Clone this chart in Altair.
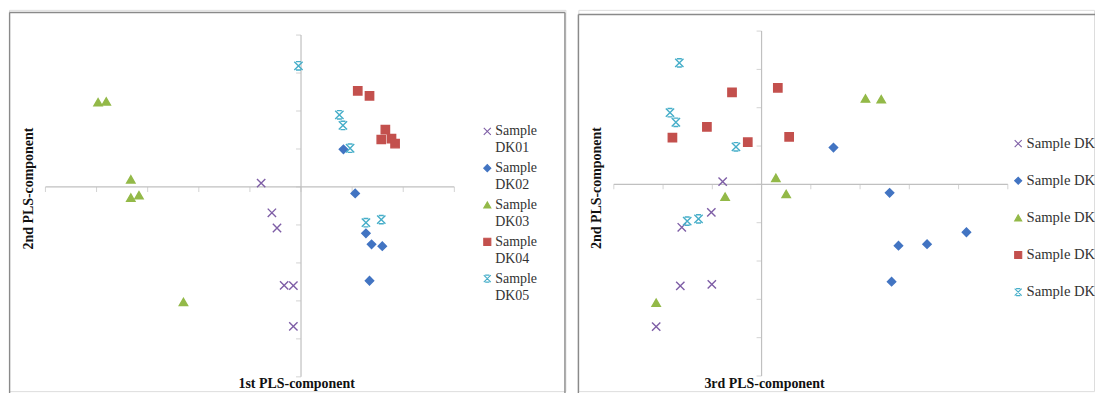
import altair as alt
import pandas as pd

samples = ["Sample DK01", "Sample DK02", "Sample DK03", "Sample DK04", "Sample DK05"]
colors = ["#7E5EA6", "#4274C2", "#93B948", "#C3504D", "#46AEC9"]
fills = ["transparent", "#4274C2", "#93B948", "#C3504D", "transparent"]
X_PATH = "M-1,-1L1,1M-1,1L1,-1"
STAR_PATH = "M-1,-1L1,1M-1,1L1,-1M-0.6,-1L0.6,-1M-0.6,1L0.6,1"
shapes = [X_PATH, "diamond", "triangle-up", "square", STAR_PATH]

# Left panel: 1st vs 2nd PLS component
pc1_dk01 = [-0.78, -0.57, -0.47, -0.33, -0.15, -0.15]
pc2a_dk01 = [0.10, -0.68, -1.08, -2.59, -2.60, -3.67]
pc1_dk02 = [0.83, 1.06, 1.27, 1.38, 1.59, 1.34]
pc2a_dk02 = [0.99, -0.17, -1.22, -1.51, -1.56, -2.47]
pc1_dk03 = [-3.97, -3.81, -3.33, -3.33, -3.17, -2.30]
pc2a_dk03 = [2.23, 2.25, 0.20, -0.28, -0.22, -3.03]
pc1_dk04 = [1.11, 1.34, 1.65, 1.57, 1.77, 1.84]
pc2a_dk04 = [2.53, 2.40, 1.51, 1.25, 1.27, 1.14]
pc1_dk05 = [-0.05, 0.75, 0.82, 0.96, 1.27, 1.57]
pc2a_dk05 = [3.19, 1.90, 1.62, 1.02, -0.94, -0.86]

# Right panel: 3rd vs 2nd PLS component
pc3_dk01 = [-0.79, -1.02, -1.62, -1.65, -1.01, -2.14]
pc2b_dk01 = [0.07, -0.73, -1.12, -2.65, -2.61, -3.71]
pc3_dk02 = [1.46, 2.60, 2.78, 3.36, 4.16, 2.64]
pc2b_dk02 = [0.96, -0.22, -1.60, -1.56, -1.25, -2.54]
pc3_dk03 = [2.11, 2.43, 0.29, 0.50, -0.74, -2.14]
pc2b_dk03 = [2.24, 2.22, 0.17, -0.25, -0.32, -3.09]
pc3_dk04 = [-0.60, 0.33, -1.11, -1.81, -0.28, 0.56]
pc2b_dk04 = [2.40, 2.52, 1.50, 1.22, 1.10, 1.24]
pc3_dk05 = [-1.67, -1.86, -1.74, -0.52, -1.51, -1.28]
pc2b_dk05 = [3.17, 1.87, 1.62, 0.98, -0.96, -0.90]

left_x_ticks = [-5, -4, -3, -2, -1, 0, 1, 2, 3]
right_x_ticks = [-3, -2, -1, 0, 1, 2, 3, 4, 5]
y_ticks = [-5, -4, -3, -2, -1, 0, 1, 2, 3, 4]

FONT = "Liberation Serif"
FRAME = "#8a8a8a"
AXIS = "#c0c0c0"
H = 383
EXT = 30


def make_df(xs, ys):
    rows = []
    for s, xv, yv in zip(samples, xs, ys):
        for a, b in zip(xv, yv):
            rows.append({"sample": s, "x": a, "y": b})
    return pd.DataFrame(rows)


def panel(df, W, xdom, ydom, xticks, ytitle_pos, xtitle, xtitle_pos,
          frame_left, frame_top, frame_right, legend):
    one = pd.DataFrame({"k": [0]})
    xs = alt.Scale(domain=xdom, nice=False, zero=False)
    ys = alt.Scale(domain=ydom, nice=False, zero=False)
    layers = []
    # frame
    layers.append(alt.Chart(one).mark_rule(color=FRAME, strokeWidth=1.4).encode(
        x=alt.value(frame_left), x2=alt.value(frame_right if frame_right else W + EXT),
        y=alt.value(frame_top)))
    layers.append(alt.Chart(one).mark_rule(color=FRAME, strokeWidth=1.4).encode(
        x=alt.value(frame_left), y=alt.value(frame_top), y2=alt.value(H + EXT)))
    if frame_right:
        layers.append(alt.Chart(one).mark_rule(color=FRAME, strokeWidth=1.4).encode(
            x=alt.value(frame_right), y=alt.value(frame_top), y2=alt.value(H + EXT)))
    # axis lines
    ax = pd.DataFrame({"x0": [min(xticks)], "x1": [max(xticks)], "y0": [0.0]})
    layers.append(alt.Chart(ax).mark_rule(color=AXIS, strokeWidth=1.2).encode(
        x=alt.X("x0:Q", scale=xs, axis=None), x2="x1:Q",
        y=alt.Y("y0:Q", scale=ys, axis=None)))
    ay = pd.DataFrame({"y0": [min(y_ticks)], "y1": [max(y_ticks)], "x0": [0.0]})
    layers.append(alt.Chart(ay).mark_rule(color=AXIS, strokeWidth=1.2).encode(
        y=alt.Y("y0:Q", scale=ys, axis=None), y2="y1:Q",
        x=alt.X("x0:Q", scale=xs, axis=None)))
    # ticks
    tx = pd.DataFrame({"t": xticks, "z": [0.0] * len(xticks)})
    layers.append(alt.Chart(tx).mark_tick(color=AXIS, orient="vertical", size=5,
                                          thickness=1, yOffset=2.5).encode(
        x=alt.X("t:Q", scale=xs, axis=None), y=alt.Y("z:Q", scale=ys, axis=None)))
    ty = pd.DataFrame({"t": y_ticks, "z": [0.0] * len(y_ticks)})
    layers.append(alt.Chart(ty).mark_tick(color=AXIS, orient="horizontal", size=5,
                                          thickness=1, xOffset=-2.5).encode(
        y=alt.Y("t:Q", scale=ys, axis=None), x=alt.X("z:Q", scale=xs, axis=None)))
    # points
    layers.append(alt.Chart(df).mark_point(size=70, strokeWidth=1.4, opacity=1, fillOpacity=1).encode(
        x=alt.X("x:Q", scale=xs, axis=None),
        y=alt.Y("y:Q", scale=ys, axis=None),
        shape=alt.Shape("sample:N", scale=alt.Scale(domain=samples, range=shapes), legend=legend),
        fill=alt.Fill("sample:N", scale=alt.Scale(domain=samples, range=fills), legend=legend),
        stroke=alt.Stroke("sample:N", scale=alt.Scale(domain=samples, range=colors), legend=legend),
    ))
    # titles
    layers.append(alt.Chart(pd.DataFrame({"t": [xtitle]})).mark_text(
        font=FONT, fontSize=14, fontWeight="bold", color="#111", baseline="middle").encode(
        text="t:N", x=alt.value(xtitle_pos[0]), y=alt.value(xtitle_pos[1])))
    layers.append(alt.Chart(pd.DataFrame({"t": ["2nd PLS-component"]})).mark_text(
        font=FONT, fontSize=14, fontWeight="bold", color="#111", baseline="middle", angle=270).encode(
        text="t:N", x=alt.value(ytitle_pos[0]), y=alt.value(ytitle_pos[1])))
    return alt.layer(*layers).properties(width=W, height=H)


leg_left = alt.Legend(orient="none", legendX=473.5, legendY=115, title=None,
                      labelFont=FONT, labelFontSize=14, labelColor="#333",
                      symbolSize=50, symbolStrokeWidth=1.1, rowPadding=6, padding=0,
                      labelOffset=1, labelBaseline="middle",
                      labelExpr="split(datum.label, ' ')")
leg_right = alt.Legend(orient="none", legendX=434.5, legendY=127, title=None,
                       labelFont=FONT, labelFontSize=14.7, labelColor="#333",
                       symbolSize=50, symbolStrokeWidth=1.1, rowPadding=21.3, padding=0,
                       labelOffset=1, labelLimit=300)

left = panel(make_df([pc1_dk01, pc1_dk02, pc1_dk03, pc1_dk04, pc1_dk05],
                     [pc2a_dk01, pc2a_dk02, pc2a_dk03, pc2a_dk04, pc2a_dk05]),
             559, [-5.713, 5.173], [-5.376, 4.663], left_x_ticks,
             (20, 179.5), "1st PLS-component", (289, 376),
             0.6, 2.7, 558.5, leg_left)
right = panel(make_df([pc3_dk01, pc3_dk02, pc3_dk03, pc3_dk04, pc3_dk05],
                      [pc2b_dk01, pc2b_dk02, pc2b_dk03, pc2b_dk04, pc2b_dk05]),
              518, [-3.7196, 6.750], [-5.395, 4.553], right_x_ticks,
              (18.7, 179), "3rd PLS-component", (187, 376),
              0, 4.7, None, leg_right)

chart = alt.hconcat(left, right, spacing=10).resolve_scale(
    x="independent", y="independent", shape="independent", fill="independent", stroke="independent"
).resolve_legend(shape="independent", fill="independent", stroke="independent").properties(
    padding={"left": 0, "top": 0, "right": -(EXT + 1), "bottom": -(EXT + 1)}
).configure_view(stroke=None).configure(style={"guide-label": {"lineHeight": 17}})

chart.save("out.html", embed_options={"renderer": "svg", "actions": False})
